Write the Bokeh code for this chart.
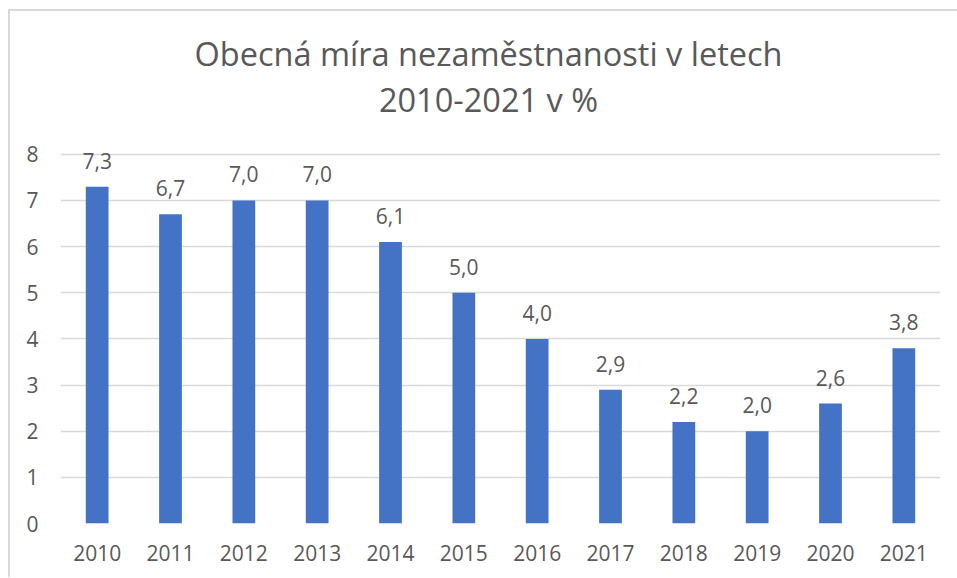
from bokeh.plotting import figure
from bokeh.models import ColumnDataSource, FixedTicker, Range1d, FactorRange, Div
from bokeh.layouts import column
from bokeh.core.properties import value
from bokeh.embed import file_html
from bokeh.resources import INLINE

years = ["2010", "2011", "2012", "2013", "2014", "2015", "2016", "2017", "2018", "2019", "2020", "2021"]
rates = [7.3, 6.7, 7.0, 7.0, 6.1, 5.0, 4.0, 2.9, 2.2, 2.0, 2.6, 3.8]
labels = [f"{v:.1f}".replace(".", ",") for v in rates]
y_ticks = [0, 1, 2, 3, 4, 5, 6, 7, 8]
title_lines = ["Obecná míra nezaměstnanosti v letech", "2010-2021 v %"]

FONT = "Open Sans"
TXT = "#595959"

src = ColumnDataSource(dict(years=years, rates=rates, labels=labels))

title_html = ("<div style=\"display:block; width:947px; box-sizing:border-box; "
              "text-align:center; font-family:'Open Sans'; font-size:32.5px; "
              "line-height:46px; color:%s; padding-top:20px; padding-left:10px; "
              "white-space:nowrap;\">%s</div>" % (TXT, "<br>".join(title_lines)))
title_div = Div(text=title_html, width=947, height=120, margin=0,
                styles={"width": "947px"})

p = figure(width=947, height=446, x_range=FactorRange(*years, range_padding=0),
           y_range=Range1d(0, 8.3), output_backend="svg", toolbar_location=None,
           title=None, min_border_left=50, min_border_right=17,
           min_border_bottom=54, min_border_top=9, margin=0)

p.vbar(x="years", top="rates", width=0.31, source=src, fill_color="#4472C4", line_color=None)
p.text(x="years", y="rates", text="labels", source=src, text_align="center",
       text_baseline="middle", y_offset=-26, text_font=value(FONT),
       text_font_size="21px", text_color=TXT)

p.outline_line_color = None
p.xgrid.grid_line_color = None
p.ygrid.grid_line_color = "#d9d9d9"
p.ygrid.grid_line_width = 1.5
p.yaxis.ticker = FixedTicker(ticks=y_ticks)
for ax in (p.xaxis, p.yaxis):
    ax.axis_line_color = None
    ax.major_tick_line_color = None
    ax.minor_tick_line_color = None
    ax.major_label_text_font = FONT
    ax.major_label_text_font_size = "21px"
    ax.major_label_text_color = TXT
p.yaxis.major_label_standoff = 16
p.xaxis.major_label_standoff = 15

layout = column(title_div, p, spacing=0, margin=0)
layout.styles = {"margin-left": "8px", "margin-top": "9px",
                 "border-top": "2px solid #d9d9d9", "border-left": "2px solid #d9d9d9"}

open("out.html", "w").write(file_html(layout, INLINE))
